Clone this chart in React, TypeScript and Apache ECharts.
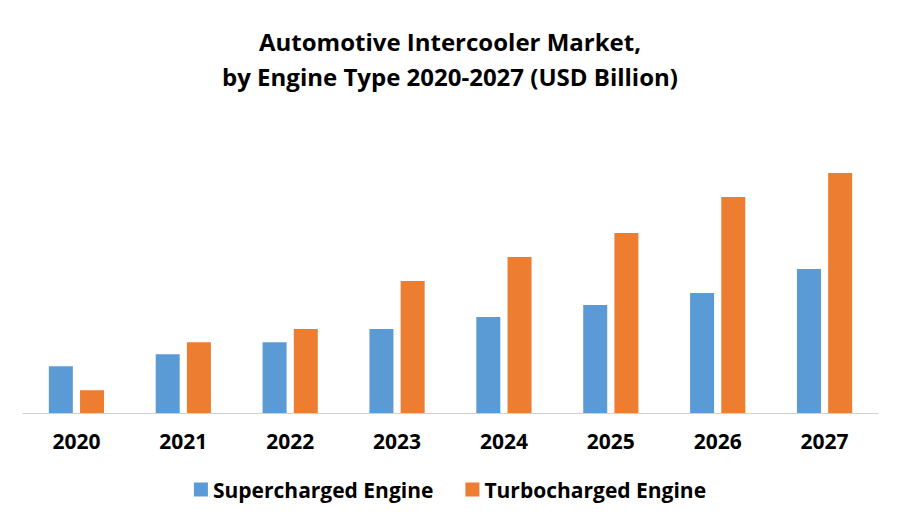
import React, { useEffect, useRef } from "react";
import * as echarts from "echarts";

const years = ["2020", "2021", "2022", "2023", "2024", "2025", "2026", "2027"];
const supercharged = [3.9, 4.9, 5.9, 7, 8, 9, 10, 12];
const turbocharged = [1.9, 5.9, 7, 11, 13, 15, 18, 20];
const seriesNames = ["Supercharged Engine", "Turbocharged Engine"];
const titleText = "Automotive Intercooler Market,\nby Engine Type 2020-2027 (USD Billion)";

const FONT = "'Open Sans', 'Noto Sans', sans-serif";

export default function App() {
  const ref = useRef<HTMLDivElement>(null);
  useEffect(() => {
    if (!ref.current) return;
    const chart = echarts.init(ref.current, undefined, { renderer: "svg" });
    chart.setOption({
      animation: false,
      backgroundColor: "#ffffff",
      title: {
        text: titleText,
        left: "center",
        top: 19,
        textStyle: {
          fontFamily: FONT,
          fontWeight: "bold",
          fontSize: 24,
          lineHeight: 35,
          color: "#000000",
        },
      },
      legend: {
        bottom: 20,
        left: "center",
        itemWidth: 14,
        itemHeight: 14,
        itemGap: 32,
        icon: "rect",
        textStyle: { fontFamily: FONT, fontWeight: "bold", fontSize: 21, color: "#000000" },
        data: seriesNames,
      },
      grid: { left: 23, right: 22, top: 113, bottom: 112 },
      xAxis: {
        type: "category",
        data: years,
        axisLine: { lineStyle: { color: "#d0d0d0", width: 1 } },
        axisTick: { show: false },
        axisLabel: {
          margin: 17,
          fontFamily: FONT,
          fontWeight: "bold",
          fontSize: 21,
          color: "#000000",
        },
      },
      yAxis: {
        type: "value",
        min: 0,
        max: 25,
        show: false,
        splitLine: { show: false },
      },
      series: [
        {
          name: seriesNames[0],
          type: "bar",
          data: supercharged,
          barWidth: 24,
          barGap: "30%",
          itemStyle: { color: "#5b9bd5" },
        },
        {
          name: seriesNames[1],
          type: "bar",
          data: turbocharged,
          barWidth: 24,
          barGap: "30%",
          itemStyle: { color: "#ed7d31" },
        },
      ],
    });
    return () => chart.dispose();
  }, []);
  return (
    <div
      ref={ref}
      style={{ position: "absolute", left: 0, top: 0, width: 900, height: 525 }}
    />
  );
}
